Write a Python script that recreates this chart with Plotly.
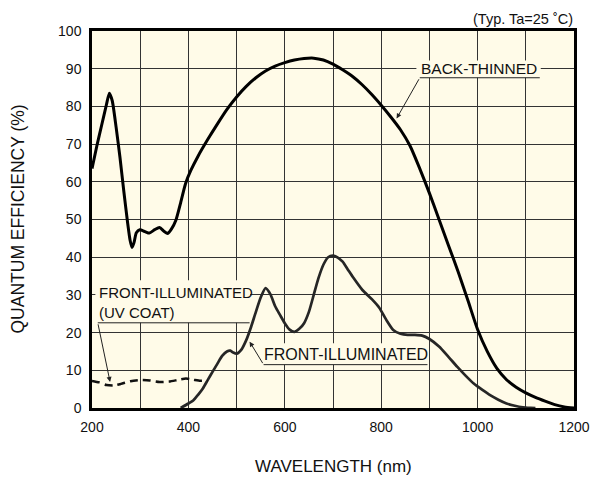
import plotly.graph_objects as go

# ---- data ----
bt_wl = [200, 210, 220, 230, 236, 242, 250, 258, 266, 274, 279, 283, 287, 292, 299, 310, 319, 330, 340, 350,
         357, 365, 374, 384, 394, 405, 420, 440, 460, 480, 500, 520, 540, 560, 580, 600, 620, 640, 660, 680,
         700, 720, 740, 760, 780, 800, 820, 840, 860, 880, 900, 920, 940, 960, 980, 1000, 1020, 1040, 1060,
         1080, 1100, 1120, 1140, 1160, 1180, 1200]
bt_qe = [63.5, 69.5, 75, 80.5, 83.5, 81.5, 74.5, 66.5, 57.5, 49, 44.5, 42.6, 43.8, 46.5, 47.3, 46.8, 46.4, 47.3, 47.9, 46.8,
         46.3, 47.5, 49.8, 54.5, 59.5, 63, 66.8, 71.2, 75.3, 79.2, 82.5, 85.3, 87.6, 89.4, 90.7, 91.6, 92.3, 92.7, 92.8, 92.3,
         91.2, 89.7, 88, 85.8, 83.2, 80.3, 77.2, 73.8, 69.5, 63.5, 57, 50, 43, 36, 28.5, 20.8, 15, 10.5, 7.5,
         5.5, 4, 2.8, 1.8, 0.9, 0.3, 0]

fi_wl = [384, 400, 410, 420, 430, 440, 450, 460, 470, 480, 487, 493, 500, 510, 520, 530, 540, 550, 560, 570,
         580, 590, 600, 610, 620, 630, 640, 650, 660, 670, 680, 690, 700, 710, 720, 730, 742, 761, 781, 796, 810,
         825, 840, 855, 870, 885, 900, 920, 940, 958, 975, 992, 1010, 1026, 1043, 1060, 1077, 1094, 1110, 1120]
fi_qe = [0, 1.2, 2, 3.5, 5.2, 7.4, 9.6, 11.7, 13.8, 15, 15.2, 14.7, 14.4, 15.5, 18, 21.5, 25.5, 29.3, 31.8, 30.2,
         27, 24.7, 22.5, 20.8, 20.2, 21, 22.5, 25.5, 30, 34.5, 38, 40, 40.4, 39.9, 38.8, 36.9, 34.6, 31.3, 28.8, 26.6, 23.5,
         20.7, 19.7, 19.4, 19.4, 19.2, 18.3, 16.3, 13.5, 10.9, 8.6, 6.5, 4.8, 3.4, 2.2, 1.2, 0.6, 0.2, 0.05, 0]

uv_wl = [200, 215, 230, 245, 260, 280, 300, 320, 340, 360, 380, 395, 410, 425, 440]
uv_qe = [7.2, 6.8, 6.1, 6.0, 6.4, 7.1, 7.4, 7.3, 6.9, 7.0, 7.5, 7.8, 7.5, 7.2, 7.3]

x_ticks = [200, 400, 600, 800, 1000, 1200]
y_ticks = [0, 10, 20, 30, 40, 50, 60, 70, 80, 90, 100]

label_back = "BACK-THINNED"
label_front = "FRONT-ILLUMINATED"
label_uv = "FRONT-ILLUMINATED<br>(UV COAT)"
note = "(Typ. Ta=25 ˚C)"
x_title = "WAVELENGTH (nm)"
y_title = "QUANTUM EFFICIENCY (%)"

FONT = "Arial, Liberation Sans, sans-serif"
BG = "#FFFBE8"
GRID = "#333333"
INK = "#222222"

fig = go.Figure()
fig.add_trace(go.Scatter(x=bt_wl, y=bt_qe, mode="lines",
                         line=dict(color="#000000", width=3, shape="spline", smoothing=0.6),
                         hoverinfo="skip", showlegend=False))
fig.add_trace(go.Scatter(x=fi_wl, y=fi_qe, mode="lines",
                         line=dict(color="#262626", width=2.7, shape="spline", smoothing=0.6),
                         hoverinfo="skip", showlegend=False))
fig.add_trace(go.Scatter(x=uv_wl, y=uv_qe, mode="lines",
                         line=dict(color="#111111", width=2.5, dash="8px,5px", shape="spline", smoothing=0.6),
                         hoverinfo="skip", showlegend=False))

shapes = []
# label background patches (hide grid behind labels)
for (x0, x1, y0, y1) in [(873, 1131, 87.6, 92.2), (207, 528, 22.6, 33.9), (553, 899, 11.5, 17.2)]:
    shapes.append(dict(type="rect", xref="x", yref="y", x0=x0, x1=x1, y0=y0, y1=y1,
                       fillcolor=BG, line=dict(width=0), layer="between"))
# underlines
for (x0, x1, yy) in [(880, 1129, 87.6), (212, 527, 22.6), (556, 896, 11.5)]:
    shapes.append(dict(type="line", xref="x", yref="y", x0=x0, x1=x1, y0=yy, y1=yy,
                       line=dict(color=INK, width=1), layer="above"))

annotations = [
    dict(text=label_back, x=1003, y=90, xref="x", yref="y", showarrow=False,
         font=dict(family=FONT, size=15.5, color="#111111"), xanchor="center", yanchor="middle"),
    dict(text=label_uv, x=211, y=28, xref="x", yref="y", showarrow=False, align="left",
         font=dict(family=FONT, size=15, color="#111111"), xanchor="left", yanchor="middle"),
    dict(text=label_front, x=726, y=14.2, xref="x", yref="y", showarrow=False,
         font=dict(family=FONT, size=16, color="#111111"), xanchor="center", yanchor="middle"),
    # arrows
    dict(text="", x=832, y=76.8, ax=880, ay=87.6, xref="x", yref="y", axref="x", ayref="y",
         showarrow=True, arrowhead=2, arrowsize=1, arrowwidth=1, arrowcolor=INK),
    dict(text="", x=237.5, y=6.9, ax=212, ay=22.6, xref="x", yref="y", axref="x", ayref="y",
         showarrow=True, arrowhead=2, arrowsize=1, arrowwidth=1, arrowcolor=INK),
    dict(text="", x=527, y=17.6, ax=556, ay=11.5, xref="x", yref="y", axref="x", ayref="y",
         showarrow=True, arrowhead=2, arrowsize=1, arrowwidth=1, arrowcolor=INK),
    # note and axis titles
    dict(text=note, x=1, y=1, xref="paper", yref="paper", showarrow=False,
         xanchor="right", yanchor="middle", yshift=12, xshift=1,
         font=dict(family=FONT, size=14.5, color="#111111")),
    dict(text=x_title, x=0.5, y=0, xref="paper", yref="paper", showarrow=False,
         xanchor="center", yanchor="middle", yshift=-58,
         font=dict(family=FONT, size=17, color="#111111")),
    dict(text=y_title, x=0, y=0.5, xref="paper", yref="paper", showarrow=False,
         xanchor="center", yanchor="middle", xshift=-75, textangle=-90,
         font=dict(family=FONT, size=17.5, color="#111111")),
]

# the page places the figure 8px in from the top-left corner, so the figure is
# sized 594x474 to fill the 602x482 window exactly
fig.update_layout(
    width=594, height=474,
    margin=dict(l=84, r=20, t=23, b=74),
    paper_bgcolor="white", plot_bgcolor=BG,
    shapes=shapes, annotations=annotations,
    font=dict(family=FONT, size=14, color="#111111"),
    xaxis=dict(range=[200, 1200], tickvals=x_ticks, ticktext=[str(v) for v in x_ticks],
               showgrid=True, gridcolor=GRID, gridwidth=1, zeroline=False,
               minor=dict(dtick=100, tick0=200, showgrid=True, gridcolor=GRID, gridwidth=1),
               showline=True, linecolor="#000000", linewidth=2.5, mirror=True,
               ticks="", ticklabelstandoff=4, tickfont=dict(family=FONT, size=14, color="#111111")),
    yaxis=dict(range=[0, 100], tickvals=y_ticks, ticktext=[str(v) for v in y_ticks],
               showgrid=True, gridcolor=GRID, gridwidth=1, zeroline=False,
               showline=True, linecolor="#000000", linewidth=2.5, mirror=True,
               ticks="", ticklabelstandoff=5, tickfont=dict(family=FONT, size=14, color="#111111")),
)

fig.write_html("out.html")
